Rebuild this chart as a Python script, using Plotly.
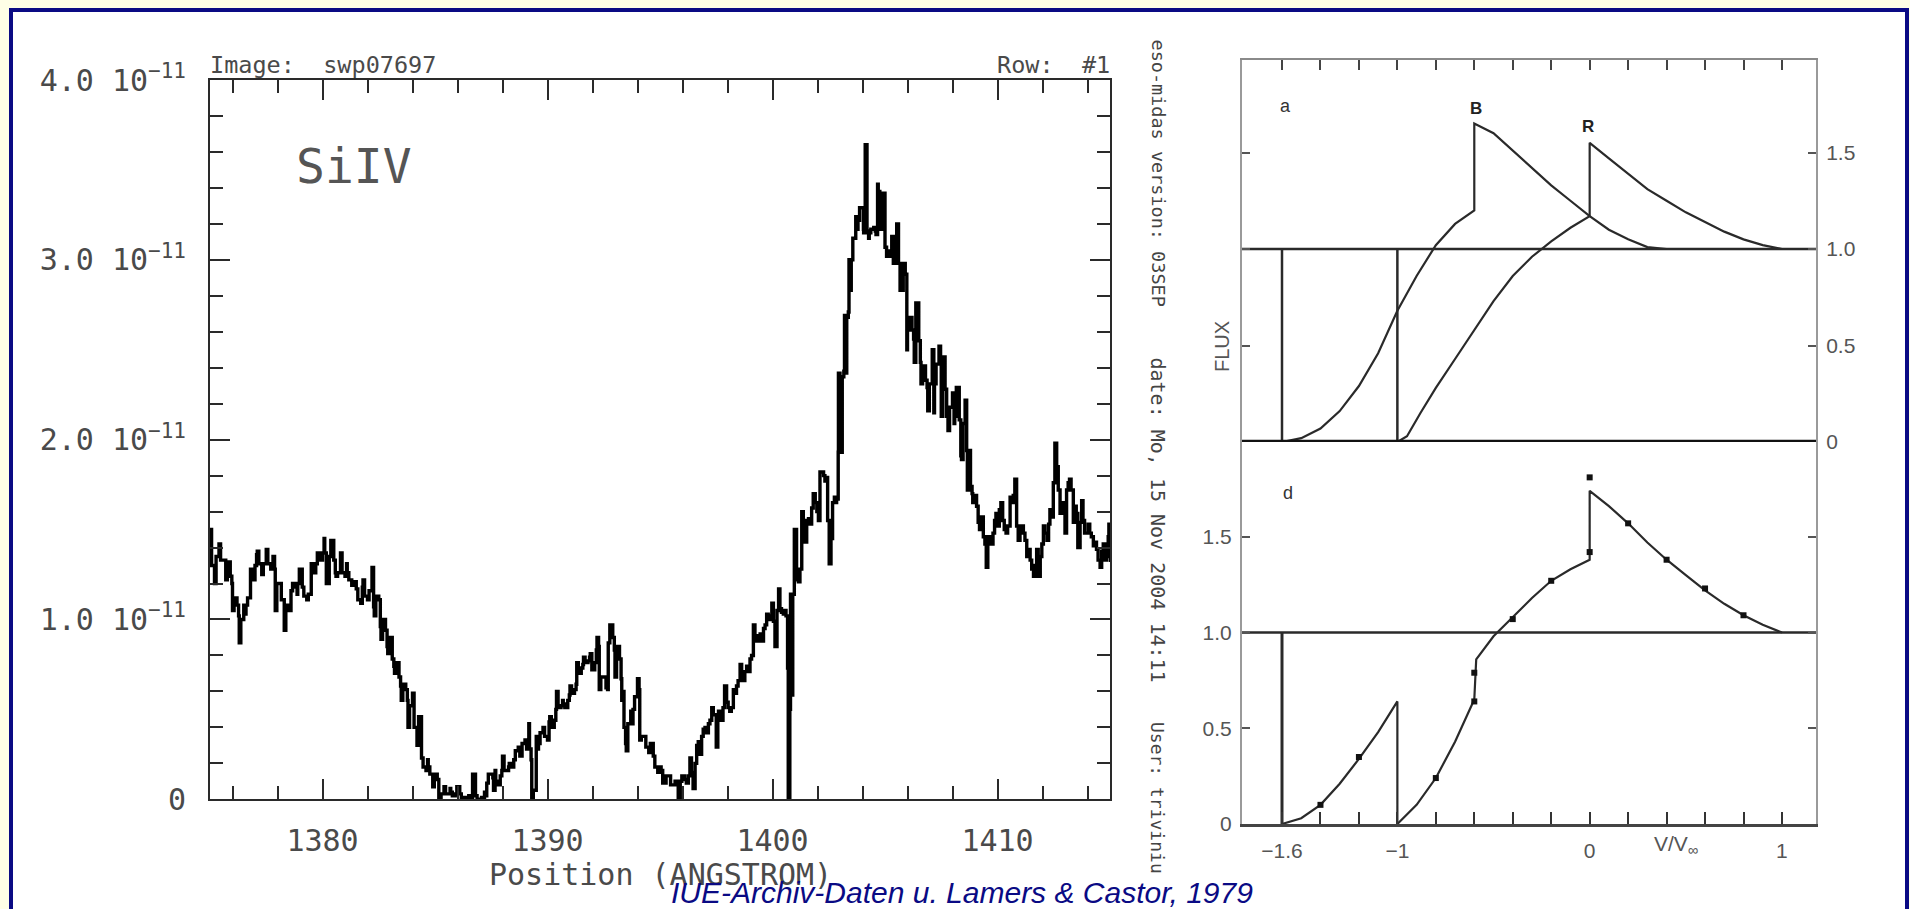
import plotly.graph_objects as go

W, H = 1910, 909


def px(x):
    return x / W


def py(y):
    return 1 - y / H


# ---------------- IUE SWP07697, Si IV doublet region ----------------
# wavelength (Angstrom) and the min / max flux seen at each sample (units of 1e-11)
wave = [
    1375.0, 1375.2, 1375.4, 1375.7, 1375.9, 1376.0, 1376.2, 1376.3, 1376.5, 1376.6,
    1376.8, 1377.0, 1377.1, 1377.3, 1377.5, 1377.7, 1377.8, 1377.9, 1378.1, 1378.3,
    1378.4, 1378.6, 1378.8, 1378.9, 1379.1, 1379.3, 1379.5, 1379.7, 1379.8, 1380.0,
    1380.1, 1380.3, 1380.5, 1380.6, 1380.8, 1381.0, 1381.1, 1381.3, 1381.5, 1381.7,
    1381.8, 1382.0, 1382.2, 1382.3, 1382.5, 1382.6, 1382.8, 1382.9, 1383.1, 1383.2,
    1383.4, 1383.5, 1383.7, 1383.8, 1384.0, 1384.2, 1384.4, 1384.6, 1384.7, 1384.9,
    1385.1, 1385.2, 1385.4, 1385.6, 1385.7, 1385.9, 1386.1, 1386.3, 1386.5, 1386.6,
    1386.8, 1387.0, 1387.2, 1387.3, 1387.5, 1387.6, 1387.7, 1387.9, 1388.0, 1388.2,
    1388.3, 1388.5, 1388.7, 1388.8, 1389.0, 1389.1, 1389.2, 1389.3, 1389.5, 1389.6,
    1389.8, 1390.0, 1390.1, 1390.3, 1390.4, 1390.6, 1390.7, 1390.9, 1391.0, 1391.2,
    1391.3, 1391.5, 1391.6, 1391.8, 1391.9, 1392.1, 1392.2, 1392.3, 1392.6, 1392.7,
    1392.9, 1393.0, 1393.2, 1393.3, 1393.4, 1393.5, 1393.7, 1393.8, 1394.0, 1394.1,
    1394.3, 1394.5, 1394.7, 1394.9, 1395.05, 1395.2, 1395.4, 1395.6, 1395.74, 1395.9,
    1396.1, 1396.26, 1396.4, 1396.56, 1396.7, 1396.85, 1397.0, 1397.15, 1397.3, 1397.5,
    1397.6, 1397.8, 1397.96, 1398.1, 1398.26, 1398.4, 1398.56, 1398.7, 1398.85, 1399.0,
    1399.15, 1399.3, 1399.45, 1399.6, 1399.74, 1399.9, 1400.04, 1400.2, 1400.33, 1400.48,
    1400.6, 1400.7, 1400.8, 1400.9, 1401.0, 1401.15, 1401.3, 1401.45, 1401.6, 1401.74,
    1401.9, 1402.04, 1402.2, 1402.33, 1402.45, 1402.6, 1402.75, 1402.85, 1402.93, 1403.1,
    1403.2, 1403.3, 1403.4, 1403.5, 1403.7, 1403.8, 1403.97, 1404.05, 1404.2, 1404.3,
    1404.5, 1404.6, 1404.7, 1404.85, 1405.0, 1405.15, 1405.3, 1405.45, 1405.6, 1405.74,
    1405.9, 1406.0, 1406.2, 1406.3, 1406.5, 1406.6, 1406.8, 1406.9, 1407.1, 1407.2,
    1407.4, 1407.5, 1407.67, 1407.8, 1408.0, 1408.1, 1408.3, 1408.4, 1408.56, 1408.66,
    1408.8, 1408.9, 1409.07, 1409.2, 1409.37, 1409.5, 1409.64, 1409.8, 1409.93, 1410.08,
    1410.23, 1410.38, 1410.56, 1410.7, 1410.85, 1411.0, 1411.15, 1411.3, 1411.45, 1411.6,
    1411.74, 1411.9, 1412.04, 1412.2, 1412.33, 1412.48, 1412.63, 1412.78, 1412.93, 1413.07,
    1413.2, 1413.37, 1413.5, 1413.67, 1413.8, 1413.96, 1414.1, 1414.26, 1414.4, 1414.56,
    1414.7, 1414.85, 1414.95,
]
flux_lo = [
    1.30, 1.20, 1.33, 1.22, 1.20, 1.05, 1.02, 0.87, 1.03, 1.08,
    1.22, 1.30, 1.31, 1.25, 1.31, 1.28, 1.28, 1.05, 1.11, 0.94,
    1.05, 1.16, 1.14, 1.20, 1.13, 1.11, 1.26, 1.31, 1.33, 1.37,
    1.20, 1.35, 1.26, 1.24, 1.26, 1.24, 1.22, 1.19, 1.11, 1.09,
    1.13, 1.11, 1.07, 1.02, 0.96, 0.89, 0.85, 0.81, 0.74, 0.70,
    0.63, 0.55, 0.55, 0.40, 0.40, 0.30, 0.18, 0.16, 0.14, 0.07,
    0.00, 0.00, 0.03, 0.03, 0.02, 0.03, 0.01, 0.00, 0.00, 0.01,
    0.00, 0.00, 0.02, 0.09, 0.12, 0.05, 0.08, 0.13, 0.16, 0.16,
    0.18, 0.22, 0.24, 0.24, 0.28, 0.31, 0.22, 0.00, 0.28, 0.31,
    0.35, 0.33, 0.40, 0.44, 0.51, 0.52, 0.51, 0.55, 0.59, 0.61,
    0.70, 0.73, 0.76, 0.77, 0.72, 0.76, 0.85, 0.61, 0.61, 0.87,
    0.83, 0.68, 0.67, 0.55, 0.31, 0.27, 0.42, 0.50, 0.61, 0.33,
    0.29, 0.26, 0.18, 0.15, 0.09, 0.09, 0.08, 0.08, 0.00, 0.10,
    0.09, 0.13, 0.06, 0.20, 0.25, 0.35, 0.37, 0.42, 0.47, 0.29,
    0.44, 0.51, 0.51, 0.49, 0.59, 0.63, 0.71, 0.66, 0.71, 0.78,
    0.88, 0.88, 0.88, 0.95, 1.00, 1.02, 0.85, 1.05, 1.04, 1.03,
    0.73, 0.00, 0.58, 1.14, 1.22, 1.21, 1.55, 1.43, 1.53, 1.62,
    1.60, 1.55, 1.80, 1.77, 1.31, 1.45, 1.65, 1.67, 1.93, 2.35,
    2.37, 2.68, 2.83, 3.00, 3.17, 3.22, 3.17, 3.15, 3.12, 3.15,
    3.16, 3.14, 3.17, 3.24, 3.02, 3.02, 2.98, 3.02, 2.83, 2.83,
    2.50, 2.61, 2.56, 2.43, 2.43, 2.31, 2.29, 2.16, 2.15, 2.31,
    2.43, 2.13, 2.13, 2.05, 2.09, 2.13, 1.91, 1.89, 1.94, 1.72,
    1.70, 1.65, 1.54, 1.50, 1.42, 1.29, 1.42, 1.48, 1.52, 1.61,
    1.50, 1.48, 1.65, 1.69, 1.44, 1.50, 1.44, 1.35, 1.28, 1.24,
    1.24, 1.35, 1.48, 1.44, 1.57, 1.76, 1.72, 1.59, 1.48, 1.72,
    1.72, 1.54, 1.40, 1.54, 1.48, 1.48, 1.46, 1.41, 1.33, 1.29,
    1.33, 1.35, 1.32,
]
flux_hi = [
    1.50, 1.35, 1.42, 1.32, 1.24, 1.12, 1.08, 1.00, 1.08, 1.12,
    1.28, 1.36, 1.38, 1.31, 1.39, 1.31, 1.35, 1.20, 1.20, 1.07,
    1.08, 1.20, 1.18, 1.28, 1.18, 1.14, 1.31, 1.37, 1.37, 1.45,
    1.37, 1.44, 1.33, 1.26, 1.37, 1.31, 1.26, 1.21, 1.17, 1.18,
    1.22, 1.16, 1.29, 1.13, 1.11, 1.00, 0.94, 0.90, 0.78, 0.76,
    0.68, 0.64, 0.61, 0.52, 0.59, 0.46, 0.23, 0.22, 0.18, 0.14,
    0.11, 0.03, 0.07, 0.06, 0.04, 0.07, 0.03, 0.01, 0.02, 0.14,
    0.02, 0.01, 0.04, 0.14, 0.14, 0.16, 0.10, 0.16, 0.24, 0.18,
    0.20, 0.27, 0.29, 0.31, 0.33, 0.42, 0.28, 0.05, 0.35, 0.37,
    0.40, 0.43, 0.46, 0.50, 0.60, 0.55, 0.53, 0.58, 0.63, 0.64,
    0.76, 0.75, 0.79, 0.79, 0.81, 0.83, 0.90, 0.68, 0.62, 0.97,
    0.90, 0.85, 0.78, 0.60, 0.40, 0.42, 0.49, 0.57, 0.67, 0.35,
    0.35, 0.31, 0.24, 0.18, 0.16, 0.13, 0.13, 0.10, 0.10, 0.13,
    0.11, 0.23, 0.15, 0.30, 0.32, 0.39, 0.40, 0.44, 0.51, 0.47,
    0.49, 0.63, 0.54, 0.51, 0.61, 0.66, 0.75, 0.71, 0.74, 0.80,
    0.97, 0.91, 0.92, 0.97, 1.03, 1.09, 0.99, 1.17, 1.06, 1.05,
    1.02, 0.50, 1.14, 1.50, 1.50, 1.28, 1.60, 1.55, 1.56, 1.70,
    1.65, 1.82, 1.82, 1.79, 1.55, 1.65, 1.68, 1.93, 2.37, 2.38,
    2.69, 2.71, 3.00, 3.12, 3.24, 3.29, 3.29, 3.64, 3.16, 3.17,
    3.18, 3.42, 3.38, 3.37, 3.07, 3.05, 3.13, 3.20, 2.98, 2.98,
    2.92, 2.68, 2.61, 2.76, 2.55, 2.41, 2.33, 2.31, 2.50, 2.42,
    2.52, 2.46, 2.28, 2.18, 2.26, 2.29, 2.11, 2.09, 2.22, 1.94,
    1.74, 1.69, 1.63, 1.57, 1.46, 1.46, 1.46, 1.55, 1.59, 1.65,
    1.55, 1.52, 1.68, 1.78, 1.52, 1.52, 1.48, 1.39, 1.33, 1.30,
    1.39, 1.42, 1.52, 1.53, 1.61, 1.98, 1.85, 1.65, 1.61, 1.76,
    1.78, 1.63, 1.59, 1.66, 1.55, 1.53, 1.48, 1.43, 1.39, 1.38,
    1.42, 1.46, 1.53,
]
flux_unit = 1e-11

# ---------------- Lamers & Castor (1979) model profiles ----------------
vel_range = [-1.808, 1.177]
vel_ticks = [-1.6, -1.4, -1.2, -1.0, -0.8, -0.6, -0.4, -0.2, 0.0, 0.2, 0.4, 0.6, 0.8, 1.0]
continuum = 1.0

# panel a: blue (B) and red (R) components of the doublet
b_x = [-1.6, -1.5, -1.4, -1.3, -1.2, -1.1, -1.0, -0.9, -0.8, -0.7, -0.6,
       -0.6, -0.5, -0.4, -0.3, -0.2, -0.1, 0.0, 0.1, 0.2, 0.3, 0.4]
b_y = [0.0, 0.02, 0.07, 0.16, 0.29, 0.46, 0.68, 0.86, 1.02, 1.13, 1.20,
       1.65, 1.60, 1.51, 1.42, 1.33, 1.25, 1.17, 1.10, 1.05, 1.01, 1.00]
r_x = [-1.0, -0.95, -0.88, -0.8, -0.7, -0.6, -0.5, -0.4, -0.3, -0.2, -0.1, 0.0,
       0.0, 0.1, 0.2, 0.3, 0.4, 0.5, 0.6, 0.7, 0.8, 0.9, 1.0]
r_y = [0.0, 0.03, 0.15, 0.28, 0.43, 0.58, 0.73, 0.86, 0.96, 1.04, 1.11, 1.17,
       1.55, 1.47, 1.39, 1.31, 1.25, 1.19, 1.14, 1.09, 1.05, 1.02, 1.00]
edge_a_x = [-1.6, -1.0]

# panel d: combined doublet profile and the computed points
d1_x = [-1.6, -1.5, -1.4, -1.3, -1.2, -1.1, -1.0, -1.0]
d1_y = [0.0, 0.03, 0.10, 0.21, 0.34, 0.48, 0.64, 0.0]
d2_x = [-1.0, -0.9, -0.8, -0.7, -0.6, -0.59, -0.5, -0.45, -0.4, -0.3, -0.2, -0.1, 0.0,
        0.0, 0.1, 0.2, 0.3, 0.4, 0.5, 0.6, 0.7, 0.8, 0.9, 1.0]
d2_y = [0.0, 0.10, 0.24, 0.43, 0.65, 0.86, 0.98, 1.03, 1.08, 1.18, 1.27, 1.33, 1.38,
        1.74, 1.66, 1.57, 1.47, 1.38, 1.30, 1.22, 1.15, 1.09, 1.04, 1.00]
dots_x = [-1.4, -1.2, -0.8, -0.6, -0.6, -0.4, -0.2, 0.0, 0.0, 0.2, 0.4, 0.6, 0.8]
dots_y = [0.10, 0.35, 0.24, 0.64, 0.79, 1.07, 1.27, 1.42, 1.81, 1.57, 1.38, 1.23, 1.09]
edge_d_x = [-1.6]

# ---------------- styles ----------------
MONO = "DejaVu Sans Mono"
SANS = "Liberation Sans"
INK = "#4a4a4a"
LINE = "#2a2a2a"
NAVY = "#0a0a84"

fig = go.Figure()

# spectrum drawn as a histogram-like trace with the min/max excursion at every sample
sx, sy = [], []
for i, (w, lo, hi) in enumerate(zip(wave, flux_lo, flux_hi)):
    a, b = (hi, lo) if i % 2 == 0 else (lo, hi)
    sx += [w, w + 0.07]
    sy += [a * flux_unit, b * flux_unit]
fig.add_trace(go.Scatter(x=sx, y=sy, mode="lines", line=dict(color="black", width=3.4, shape="hv"),
                         xaxis="x", yaxis="y", hoverinfo="skip"))

# panel a
fig.add_trace(go.Scatter(x=vel_range, y=[continuum, continuum], mode="lines",
                         line=dict(color=LINE, width=2.5), xaxis="x2", yaxis="y2"))
for ex in edge_a_x:
    fig.add_trace(go.Scatter(x=[ex, ex], y=[0, continuum], mode="lines",
                             line=dict(color=LINE, width=2.5), xaxis="x2", yaxis="y2"))
fig.add_trace(go.Scatter(x=b_x, y=b_y, mode="lines", line=dict(color=LINE, width=2.2), xaxis="x2", yaxis="y2"))
fig.add_trace(go.Scatter(x=r_x, y=r_y, mode="lines", line=dict(color=LINE, width=2.2), xaxis="x2", yaxis="y2"))
# baseline shared by both panels
fig.add_trace(go.Scatter(x=vel_range, y=[0, 0], mode="lines",
                         line=dict(color="#111", width=4.5), xaxis="x2", yaxis="y2", cliponaxis=False))

# panel d
fig.add_trace(go.Scatter(x=vel_range, y=[continuum, continuum], mode="lines",
                         line=dict(color=LINE, width=2.5), xaxis="x3", yaxis="y3"))
for ex in edge_d_x:
    fig.add_trace(go.Scatter(x=[ex, ex], y=[0, continuum], mode="lines",
                             line=dict(color=LINE, width=3), xaxis="x3", yaxis="y3"))
fig.add_trace(go.Scatter(x=d1_x, y=d1_y, mode="lines", line=dict(color=LINE, width=2.2), xaxis="x3", yaxis="y3"))
fig.add_trace(go.Scatter(x=d2_x, y=d2_y, mode="lines", line=dict(color=LINE, width=2.2), xaxis="x3", yaxis="y3"))
fig.add_trace(go.Scatter(x=dots_x, y=dots_y, mode="markers",
                         marker=dict(color="#111", size=6, symbol="square"), xaxis="x3", yaxis="y3"))

# ---------------- axes ----------------
spec_x_dom = [px(210), px(1110)]
spec_y_dom = [py(799.3), py(80)]
vel_x_dom = [px(1242), px(1816)]
a_y_dom = [py(442), py(60)]
d_y_dom = [py(824), py(441)]

common = dict(showgrid=False, zeroline=False, showline=True, automargin=False)

spec_tick_y = [0, 1e-11, 2e-11, 3e-11, 4e-11]
spec_tick_y_txt = ["0"] + [f"{v:.1f} 10<sup>\u221211</sup>" for v in (1.0, 2.0, 3.0, 4.0)]

fig.update_layout(
    xaxis=dict(**common, domain=spec_x_dom, range=[1375, 1415], anchor="y",
               linecolor=LINE, linewidth=2, mirror="ticks",
               ticks="inside", ticklen=20, tickwidth=2, tickcolor=LINE,
               tickmode="linear", tick0=1380, dtick=10,
               minor=dict(ticks="inside", ticklen=13, tickwidth=2, tickcolor=LINE, dtick=2, tick0=1380),
               tickfont=dict(family=MONO, size=30, color=INK), ticklabelstandoff=14),
    yaxis=dict(**common, domain=spec_y_dom, range=[0, 4e-11], anchor="x",
               linecolor=LINE, linewidth=2, mirror="ticks",
               ticks="inside", ticklen=20, tickwidth=2, tickcolor=LINE,
               tickmode="array", tickvals=spec_tick_y, ticktext=spec_tick_y_txt,
               minor=dict(ticks="inside", ticklen=13, tickwidth=2, tickcolor=LINE, dtick=0.2e-11, tick0=0),
               tickfont=dict(family=MONO, size=30, color=INK), ticklabelstandoff=16),
    xaxis2=dict(**common, domain=vel_x_dom, range=vel_range, anchor="y2", side="top",
                linecolor="#8a8a8a", linewidth=2, mirror=False,
                ticks="inside", ticklen=10, tickwidth=2, tickcolor="#444",
                tickmode="array", tickvals=vel_ticks, showticklabels=False),
    yaxis2=dict(**common, domain=a_y_dom, range=[0, (442 - 60) / 193], anchor="x2", side="right",
                linecolor="#9a9a9a", linewidth=2, mirror="ticks",
                ticks="inside", ticklen=8, tickwidth=2, tickcolor="#555",
                tickmode="array", tickvals=[0, 0.5, 1.0, 1.5], ticktext=["0", "0.5", "1.0", "1.5"],
                tickfont=dict(family=SANS, size=21, color="#555"), ticklabelstandoff=4),
    xaxis3=dict(**common, domain=vel_x_dom, range=vel_range, anchor="y3",
                linecolor="#444", linewidth=2.5, mirror=False,
                ticks="inside", ticklen=12, tickwidth=2, tickcolor="#333",
                tickmode="array", tickvals=[-1.6, -1.0, 0.0, 1.0], ticktext=["\u22121.6", "\u22121", "0", "1"],
                minor=dict(ticks="inside", ticklen=12, tickwidth=2, tickcolor="#333",
                           tickmode="array", tickvals=vel_ticks[1:]),
                tickfont=dict(family=SANS, size=21, color="#555"), ticklabelstandoff=6),
    yaxis3=dict(**common, domain=d_y_dom, range=[0, 2.0], anchor="x3",
                linecolor="#9a9a9a", linewidth=2, mirror="ticks",
                ticks="inside", ticklen=8, tickwidth=2, tickcolor="#555",
                tickmode="array", tickvals=[0, 0.5, 1.0, 1.5], ticktext=["0", "0.5", "1.0", "1.5"],
                tickfont=dict(family=SANS, size=21, color="#555"), ticklabelstandoff=4),
)

# ---------------- texts ----------------
ann = []


def label(x, y, text, size, family=MONO, color=INK, xanchor="left", yanchor="middle", angle=0, **kw):
    ann.append(dict(x=px(x), y=py(y), xref="paper", yref="paper", text=text, showarrow=False,
                    xanchor=xanchor, yanchor=yanchor, textangle=angle,
                    font=dict(family=family, size=size, color=color), **kw))


label(208, 65, "Image:  swp07697", 23.5)
label(1112, 65, "Row:  #1", 23.5, xanchor="right")
label(294, 166, "SiIV", 48, color="#555")
label(660, 874, "Position (ANGSTROM)", 30, xanchor="center")

label(1158, 37, "eso-midas version: 03SEP", 18.5, color="#444", angle=90, xanchor="center", yanchor="top")
label(1158, 355, "date: Mo, 15 Nov 2004 14:11", 20, color="#444", angle=90, xanchor="center", yanchor="top")
label(1158, 720, "User: triviniu", 18, color="#444", angle=90, xanchor="center", yanchor="top")

label(1222, 347, "FLUX", 20, family=SANS, color="#555", angle=-90, xanchor="center")
label(1285, 106, "a", 18, family=SANS, color="#333", xanchor="center")
label(1476, 108, "<b>B</b>", 17, family=SANS, color="#222", xanchor="center")
label(1588, 127, "<b>R</b>", 17, family=SANS, color="#222", xanchor="center")
label(1288, 493, "d", 18, family=SANS, color="#333", xanchor="center")
label(1676, 845, "V/V<sub>\u221e</sub>", 21, family=SANS, color="#555", xanchor="center")

label(962, 892, "<i>IUE-Archiv-Daten u. Lamers &amp; Castor, 1979</i>", 30, family=SANS, color=NAVY,
      xanchor="center")

fig.update_layout(
    width=W, height=H,
    margin=dict(l=0, r=0, t=0, b=0, pad=0, autoexpand=False),
    paper_bgcolor="#fefee6",
    plot_bgcolor="rgba(0,0,0,0)",
    showlegend=False,
    annotations=ann,
    shapes=[dict(type="rect", xref="paper", yref="paper", layer="below",
                 x0=px(11), x1=px(1907), y0=py(940), y1=py(10),
                 line=dict(color=NAVY, width=4), fillcolor="white")],
)

fig.write_html("out.html")
